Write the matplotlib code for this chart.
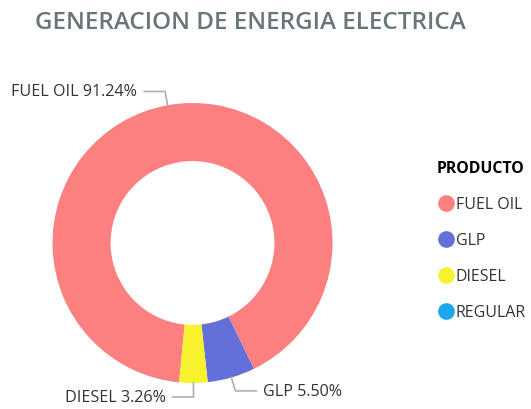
import matplotlib
matplotlib.use('Agg')
import matplotlib.pyplot as plt
from matplotlib.lines import Line2D
import numpy as np

plt.rcParams['font.family'] = ['Open Sans', 'DejaVu Sans']

productos = ['FUEL OIL', 'GLP', 'DIESEL', 'REGULAR']
porcentajes = [91.24, 5.50, 3.26, 0.001]
colores = ['#FD8080', '#6470DA', '#F7F12E', '#1AA7EE']
etiquetas = ['FUEL OIL 91.24%', 'GLP 5.50%', 'DIESEL 3.26%', None]

fig = plt.figure(figsize=(5.31, 4.10), dpi=100)
fig.text(0.066, 0.945, 'GENERACION DE ENERGIA ELECTRICA', fontsize=17.5,
         fontweight='semibold', color='#68767A', va='center', ha='left')

ax = fig.add_axes([0.0989, 0.0634, 0.5273, 0.683])
wedges, _ = ax.pie(porcentajes, colors=colores, startangle=264.5, counterclock=False,
                   radius=1.0, wedgeprops=dict(width=0.415, edgecolor='none'))
ax.set_xlim(-1, 1)
ax.set_ylim(-1, 1)
ax.set_aspect('equal')
ax.axis('off')

# etiquetas con linea quebrada
for w, lab in zip(wedges, etiquetas):
    if lab is None:
        continue
    ang = np.deg2rad((w.theta1 + w.theta2) / 2)
    x0, y0 = np.cos(ang), np.sin(ang)
    x1, y1 = 1.1 * x0, 1.1 * y0
    lado = 1 if x0 > 0.05 else -1
    x2 = x1 + lado * 0.15
    ax.plot([x0, x1, x2], [y0, y1, y1], color='#B5AEA8', lw=1.2, clip_on=False)
    ax.text(x2 + lado * 0.05, y1, lab, fontsize=11.6, color='#333333',
            ha='left' if lado > 0 else 'right', va='center', clip_on=False)

handles = [Line2D([], [], marker='o', linestyle='none', markersize=12,
                  markerfacecolor=c, markeredgecolor='none') for c in colores]
leg = fig.legend(handles, productos, loc='upper left', bbox_to_anchor=(0.807, 0.626),
                 frameon=False, title='PRODUCTO', fontsize=11.5, labelspacing=1.25,
                 handletextpad=0.0, handlelength=1.2, borderpad=0,
                 title_fontproperties={'weight': 'bold', 'size': 11.4}, alignment='left')
for t in leg.get_texts():
    t.set_color('#333333')

fig.savefig('out.png', dpi=100)
